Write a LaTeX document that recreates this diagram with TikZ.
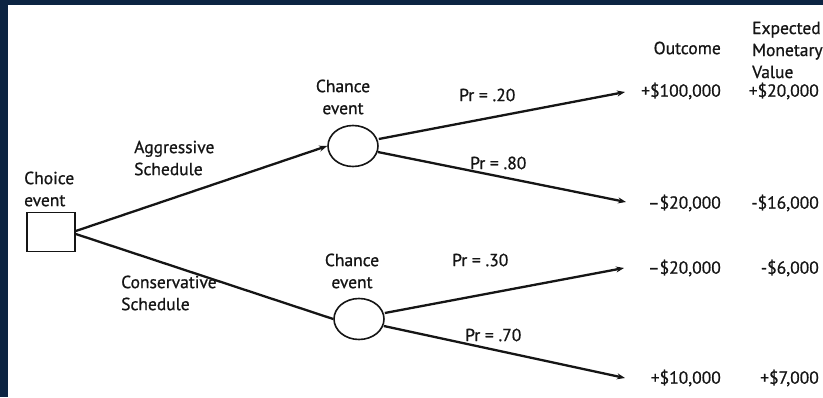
\documentclass[tikz,border=0pt]{standalone}
\usepackage{fontspec}
\newfontfamily\lblfont[FakeBold=0.8,Ligatures=TeX]{PT Sans}
\usetikzlibrary{arrows.meta,shapes.geometric}
\definecolor{navy}{HTML}{0C2442}
\definecolor{ink}{HTML}{151515}
\tikzset{
  lbl/.style={font=\lblfont\fontsize{17.5}{22}\selectfont, text=ink, inner sep=0pt},
  box/.style={draw=ink, line width=1.6pt, minimum width=48pt, minimum height=39pt, inner sep=0pt},
  chance/.style={draw=ink, line width=1.6pt, ellipse, minimum width=50pt, minimum height=41pt, inner sep=0pt},
  link/.style={draw=ink, line width=2.3pt},
  arr/.style={link, -{Stealth[length=8pt,width=6pt]}}
}
\begin{document}
\begin{tikzpicture}[x=1pt,y=-1pt]
\useasboundingbox (0,0) rectangle (823,397);
\fill[navy] (0,0) rectangle (823,397);
\fill[white] (8,5) rectangle (823,397);
% nodes
\node[box] (choice) at (51,232) {};
\node[chance] (c1) at (353,146) {};
\node[chance] (c2) at (359,319) {};
\coordinate (o1) at (625,92);
\coordinate (o2) at (626,202);
\coordinate (o3) at (624,268);
\coordinate (o4) at (625,378);
% labels
\node[lbl, anchor=west, align=left] (choiceL) at (24,189) {Choice\\event};
\node[lbl, anchor=center, align=center] (c1L) at (343,97) {Chance\\event};
\node[lbl, anchor=center, align=center] (c2L) at (352,271) {Chance\\event};
\node[lbl, anchor=west, align=left] (aggL) at (134,158) {Aggressive\\Schedule};
\node[lbl, anchor=west, align=left] (conL) at (121,293) {Conservative\\Schedule};
\node[lbl, anchor=west] (p1) at (459,95) {Pr = .20};
\node[lbl, anchor=west] (p2) at (470,163) {Pr = .80};
\node[lbl, anchor=west] (p3) at (452,260) {Pr = .30};
\node[lbl, anchor=west] (p4) at (465,335) {Pr = .70};
\node[lbl, anchor=east] (outH) at (721,48) {Outcome};
\node[lbl, anchor=west, align=left] (emvH) at (752,50) {Expected\\Monetary\\Value};
\node[lbl, anchor=east] (v1) at (721,91) {+\$100,000};
\node[lbl, anchor=east] (v2) at (721,203) {–\$20,000};
\node[lbl, anchor=east] (v3) at (721,268) {–\$20,000};
\node[lbl, anchor=east] (v4) at (721,378) {+\$10,000};
\node[lbl, anchor=east] (e1) at (819,91) {+\$20,000};
\node[lbl, anchor=east] (e2) at (819,203) {-\$16,000};
\node[lbl, anchor=east] (e3) at (819,268) {-\$6,000};
\node[lbl, anchor=east] (e4) at (819,378) {+\$7,000};
% connectors
\draw[arr] (choice.east) ++(0,-1) -- (c1.west);
\draw[link] (choice.east) ++(0,2) -- (c2.west);
\draw[arr] (c1.east) ++(0,-7) -- (o1);
\draw[arr] (c1.east) ++(-1,6) -- (o2);
\draw[arr] (c2.east) ++(0,-6) -- (o3);
\draw[arr] (c2.east) ++(-1,7) -- (o4);
\end{tikzpicture}
\end{document}
